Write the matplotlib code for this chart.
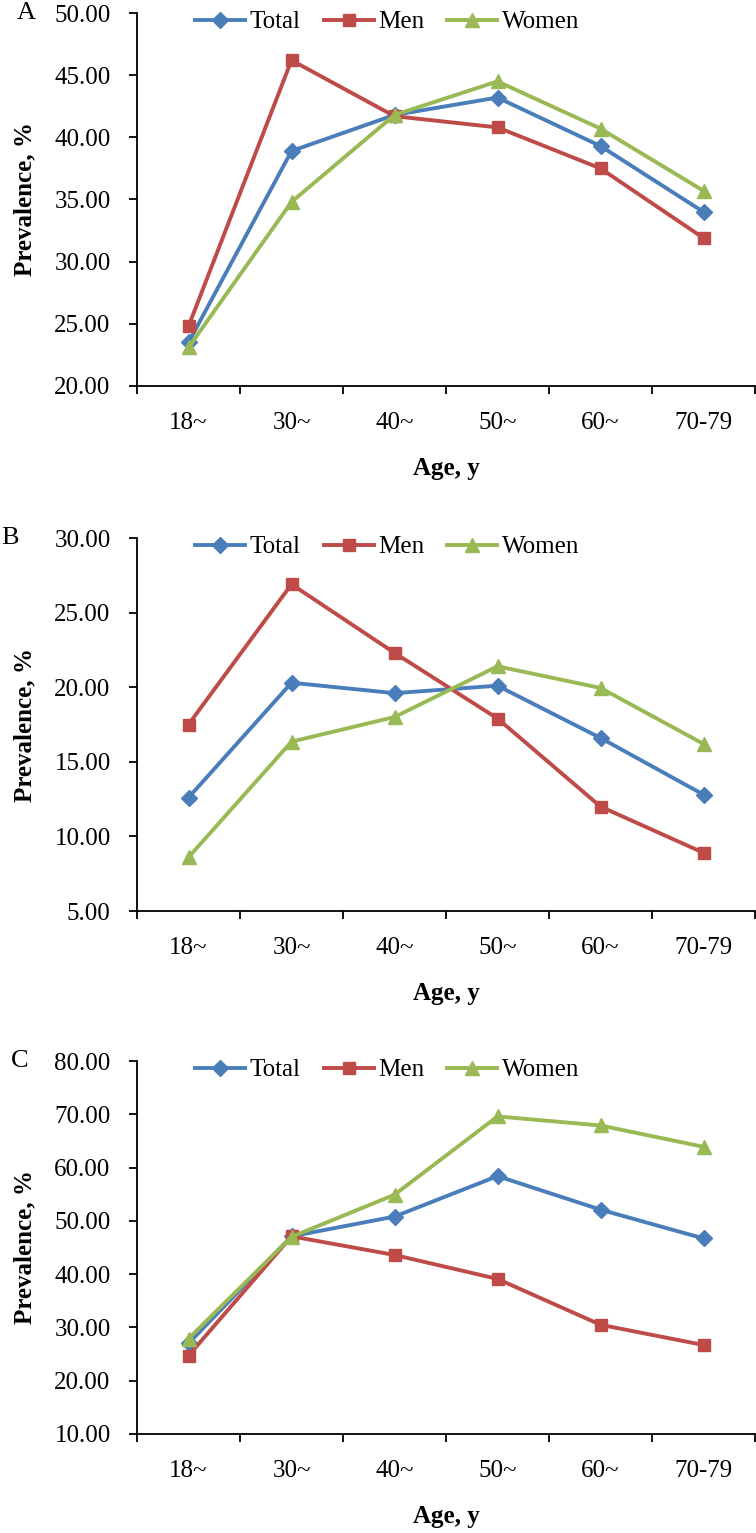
import numpy as np
import matplotlib
matplotlib.use('Agg')
import matplotlib.pyplot as plt
from matplotlib.ticker import FixedLocator, FormatStrFormatter

plt.rcParams['font.family'] = ['Liberation Serif', 'DejaVu Serif']

# 연령대
age_groups = ['18~', '30~', '40~', '50~', '60~', '70-79']

# A
total_a = [23.5, 38.9, 41.8, 43.2, 39.3, 34.0]
men_a = [24.8, 46.2, 41.7, 40.8, 37.5, 31.9]
women_a = [23.1, 34.8, 41.8, 44.5, 40.7, 35.7]

# B
total_b = [12.6, 20.3, 19.6, 20.1, 16.6, 12.8]
men_b = [17.5, 26.9, 22.3, 17.9, 12.0, 8.9]
women_b = [8.6, 16.35, 18.0, 21.4, 19.95, 16.2]

# C
total_c = [27.0, 47.1, 50.8, 58.4, 52.1, 46.7]
men_c = [24.7, 47.1, 43.6, 39.1, 30.5, 26.7]
women_c = [27.9, 47.0, 54.9, 69.6, 67.9, 63.9]

panel_letters = ['A', 'B', 'C']
y_ranges = [(20, 50, 5), (5, 30, 5), (10, 80, 10)]

#%%
fig = plt.figure(figsize=(7.56, 15.33), dpi=100)
W, H = 756, 1533

ax_left = 137
ax_right = 755
ax_tops = [13, 538, 1061]
ax_h = 373
letter_x = [26, 10, 20]

blue = '#4A7EBB'
red = '#BE4B48'
green = '#98B954'

data = [(total_a, men_a, women_a), (total_b, men_b, women_b), (total_c, men_c, women_c)]
x = np.arange(len(age_groups)) + 0.5

for k in range(3):
    top = ax_tops[k]
    ax = fig.add_axes([ax_left / W, 1 - (top + ax_h) / H, (ax_right - ax_left) / W, ax_h / H])
    total, men, women = data[k]
    ax.plot(x, total, color=blue, marker='D', markersize=8, linewidth=2.8, label='Total')
    ax.plot(x, men, color=red, marker='s', markersize=9, linewidth=2.8, label='Men')
    ax.plot(x, women, color=green, marker='^', markersize=10, linewidth=2.8, label='Women')

    lo, hi, step = y_ranges[k]
    ax.set_ylim(lo, hi)
    ax.set_yticks(np.arange(lo, hi + 0.1, step))
    ax.yaxis.set_major_formatter(FormatStrFormatter('%.2f'))
    ax.set_xlim(0, len(age_groups))

    # 눈금은 구간 경계에, 라벨은 가운데에
    ax.xaxis.set_major_locator(FixedLocator(np.arange(0, len(age_groups) + 1)))
    ax.xaxis.set_minor_locator(FixedLocator(x))
    ax.set_xticklabels([], minor=False)
    ax.set_xticklabels(age_groups, minor=True)
    ax.tick_params(axis='x', which='major', direction='out', length=6, width=1.3)
    ax.tick_params(axis='x', which='minor', length=0, pad=19, labelsize=18)
    ax.tick_params(axis='y', direction='out', length=6, width=1.3, pad=13, labelsize=18)

    ax.spines['top'].set_visible(False)
    ax.spines['right'].set_visible(False)
    ax.spines['left'].set_linewidth(1.3)
    ax.spines['bottom'].set_linewidth(1.3)

    ax.set_ylabel('Prevalence, %', fontsize=18, fontweight='bold')
    ax.yaxis.set_label_coords((36 - ax_left) / (ax_right - ax_left), 0.5)
    ax.set_xlabel('Age, y', fontsize=18, fontweight='bold')
    ax.xaxis.set_label_coords(0.5, -(1505 - 1434) / ax_h)

    ax.legend(loc='center left', bbox_to_anchor=((195 - ax_left) / (ax_right - ax_left), 1 - 9 / ax_h),
              ncol=3, frameon=False, fontsize=18, handlelength=2.0, handletextpad=0.2,
              columnspacing=0.9, borderpad=0, borderaxespad=0)

    fig.text(letter_x[k] / W, 1 - top / H, panel_letters[k], fontsize=19, ha='center', va='center')

plt.savefig('out.png', dpi=100)
